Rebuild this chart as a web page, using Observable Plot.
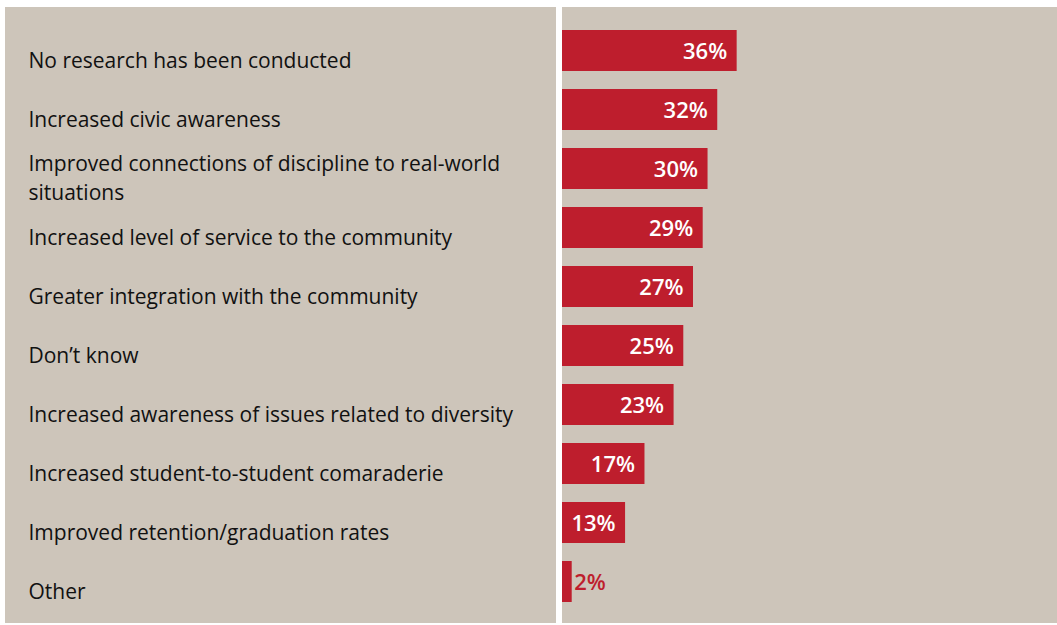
<!DOCTYPE html>
<html>
<head>
<meta charset="utf-8">
<script src="https://cdn.jsdelivr.net/npm/d3@7"></script>
<script src="https://cdn.jsdelivr.net/npm/@observablehq/plot@0.6"></script>
<style>
  html, body { margin: 0; padding: 0; background: #ffffff; }
  #wrap { position: relative; width: 1057px; height: 625px; overflow: hidden; }
  .panel { position: absolute; background: #cdc5ba; }
  #left { left: 5px; top: 7px; width: 551px; height: 616px; }
  #right { left: 562px; top: 7px; width: 495px; height: 616px; }
  #chart { position: absolute; left: 0; top: 0; }
</style>
</head>
<body>
<div id="wrap">
  <div class="panel" id="left"></div>
  <div class="panel" id="right"></div>
  <div id="chart"></div>
</div>
<script>
const categories = [
  "No research has been conducted",
  "Increased civic awareness",
  "Improved connections of discipline to real-world\nsituations",
  "Increased level of service to the community",
  "Greater integration with the community",
  "Don\u2019t know",
  "Increased awareness of issues related to diversity",
  "Increased student-to-student comaraderie",
  "Improved retention/graduation rates",
  "Other"
];
const values = [36, 32, 30, 29, 27, 25, 23, 17, 13, 2];

const data = categories.map((c, i) => ({category: c, value: values[i]}));
const inside = data.filter(d => d.value >= 5);
const outside = data.filter(d => d.value < 5);
const singleLine = data.filter(d => !d.category.includes("\n"));
const multiLine = data.filter(d => d.category.includes("\n"));

const red = "#be1e2d";

const chart = Plot.plot({
  width: 1057,
  height: 625,
  marginLeft: 562,
  marginRight: 5,
  marginTop: 7,
  marginBottom: 0,
  style: {background: "transparent", overflow: "visible"},
  x: {domain: [0, 101], axis: null},
  y: {domain: categories, axis: null, paddingInner: 0.31, paddingOuter: 0.33},
  marks: [
    Plot.barX(data, {x: "value", y: "category", fill: red}),
    Plot.text(inside, {
      x: "value", y: "category", text: d => d.value + "%",
      textAnchor: "end", dx: -10, dy: 1,
      fill: "white", fontSize: 22, fontWeight: 600,
      fontFamily: "Open Sans"
    }),
    Plot.text(outside, {
      x: "value", y: "category", text: d => d.value + "%",
      textAnchor: "start", dx: 2, dy: 1,
      fill: red, fontSize: 22, fontWeight: 600,
      fontFamily: "Open Sans"
    }),
    Plot.text(singleLine, {
      y: "category", text: "category", frameAnchor: "left",
      textAnchor: "start", dx: -534, dy: 10,
      fill: "#111", fontSize: 21, fontFamily: "Open Sans"
    }),
    Plot.text(multiLine, {
      y: "category", text: "category", frameAnchor: "left",
      textAnchor: "start", dx: -534, dy: 7, lineHeight: 1.37,
      fill: "#111", fontSize: 21, fontFamily: "Open Sans"
    })
  ]
});
document.getElementById("chart").appendChild(chart);
</script>
</body>
</html>
